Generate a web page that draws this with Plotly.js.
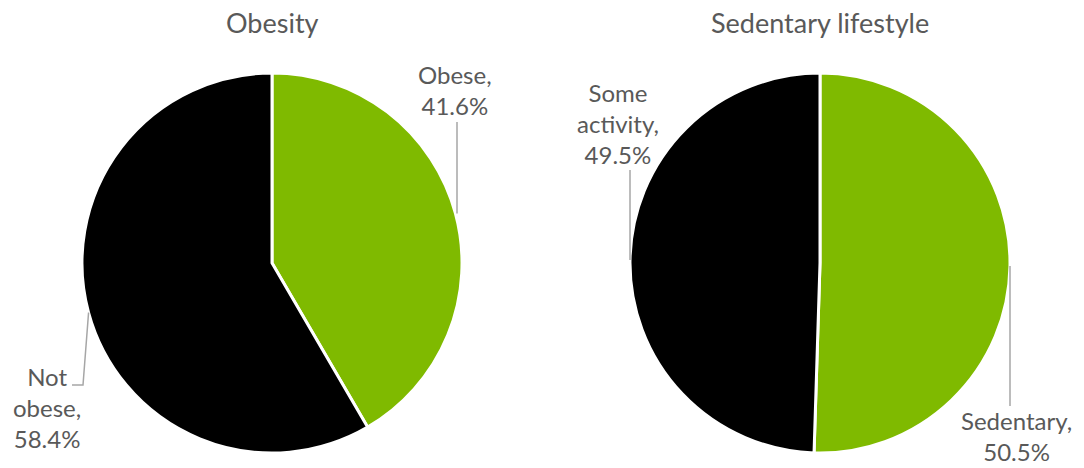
<!DOCTYPE html>
<html>
<head>
<meta charset="utf-8">
<script src="https://cdn.plot.ly/plotly-3.0.1.min.js"></script>
<style>html,body{margin:0;padding:0;background:#fff;}#chart{width:1084px;height:468px;}</style>
</head>
<body>
<div id="chart"></div>
<script>
// ---- data ----
const obesityLabels = ["Obese", "Not obese"];
const obesityValues = [41.6, 58.4];
const sedentaryLabels = ["Sedentary", "Some activity"];
const sedentaryValues = [50.5, 49.5];
const chartTitles = ["Obesity", "Sedentary lifestyle"];
const labelText = {
  "Obese": "Obese,<br>41.6%",
  "Not obese": "Not<br>obese,<br>58.4%",
  "Sedentary": "Sedentary,<br>50.5%",
  "Some activity": "Some<br>activity,<br>49.5%"
};

// ---- layout geometry ----
const W = 1084, H = 468;
const R = 190;
const centers = [[272, 263], [820, 263]];
const GREEN = "#7FBA00", BLACK = "#000000", TXT = "#595959", LEAD = "#A6A6A6";
const FONT = "Lato, 'Open Sans', sans-serif";
const px = x => x / W, py = y => 1 - y / H;

function domainFor(c) {
  return { x: [px(c[0] - R), px(c[0] + R)], y: [py(c[1] + R), py(c[1] - R)] };
}

const traces = [
  { labels: obesityLabels, values: obesityValues, c: centers[0] },
  { labels: sedentaryLabels, values: sedentaryValues, c: centers[1] }
].map(t => ({
  type: "pie",
  labels: t.labels,
  values: t.values,
  sort: false,
  direction: "clockwise",
  rotation: 0,
  textinfo: "none",
  hoverinfo: "label+percent",
  marker: { colors: [GREEN, BLACK], line: { color: "#ffffff", width: 3 } },
  domain: domainFor(t.c),
  showlegend: false
}));

// mid-angle edge points (computed from the data)
function edgePoint(values, idx, c) {
  const tot = values.reduce((a, b) => a + b, 0);
  let start = 0;
  for (let i = 0; i < idx; i++) start += values[i];
  const mid = (start + values[idx] / 2) / tot * 2 * Math.PI;
  return [c[0] + R * Math.sin(mid), c[1] - R * Math.cos(mid)];
}

// label placements (pixel centers) and leader-line ends
const labelSpecs = [
  { pie: 0, idx: 0, pos: [455, 90], lineEnd: [457, 122], elbow: null },
  { pie: 0, idx: 1, pos: [47, 407], lineEnd: [72, 385], elbow: [83, 385] },
  { pie: 1, idx: 1, pos: [618, 124], lineEnd: [630, 170], elbow: null },
  { pie: 1, idx: 0, pos: [1016, 436], lineEnd: [1010, 406], elbow: null }
];
const pies = [
  { labels: obesityLabels, values: obesityValues, c: centers[0] },
  { labels: sedentaryLabels, values: sedentaryValues, c: centers[1] }
];

const annotations = [];
const shapes = [];
labelSpecs.forEach(s => {
  const p = pies[s.pie];
  const name = p.labels[s.idx];
  annotations.push({
    xref: "paper", yref: "paper", x: px(s.pos[0]), y: py(s.pos[1]),
    xanchor: "center", yanchor: "middle", showarrow: false,
    text: labelText[name], align: "center",
    font: { family: FONT, size: 24, color: TXT }
  });
  const e = edgePoint(p.values, s.idx, p.c);
  let path;
  if (s.elbow) {
    path = `M${px(e[0])},${py(e[1])} L${px(s.elbow[0])},${py(s.elbow[1])} L${px(s.lineEnd[0])},${py(s.lineEnd[1])}`;
  } else {
    path = `M${px(s.lineEnd[0])},${py(e[1])} L${px(s.lineEnd[0])},${py(s.lineEnd[1])}`;
  }
  shapes.push({ type: "path", xref: "paper", yref: "paper", path: path, line: { color: LEAD, width: 1.5 } });
});

chartTitles.forEach((t, i) => {
  annotations.push({
    xref: "paper", yref: "paper", x: px(centers[i][0]), y: py(22),
    xanchor: "center", yanchor: "middle", showarrow: false,
    text: t, font: { family: FONT, size: 27, color: TXT }
  });
});

const layout = {
  width: W, height: H,
  margin: { l: 0, r: 0, t: 0, b: 0 },
  paper_bgcolor: "#ffffff",
  plot_bgcolor: "#ffffff",
  annotations: annotations,
  shapes: shapes
};

Plotly.newPlot("chart", traces, layout, { displayModeBar: false, staticPlot: true });
</script>
</body>
</html>
